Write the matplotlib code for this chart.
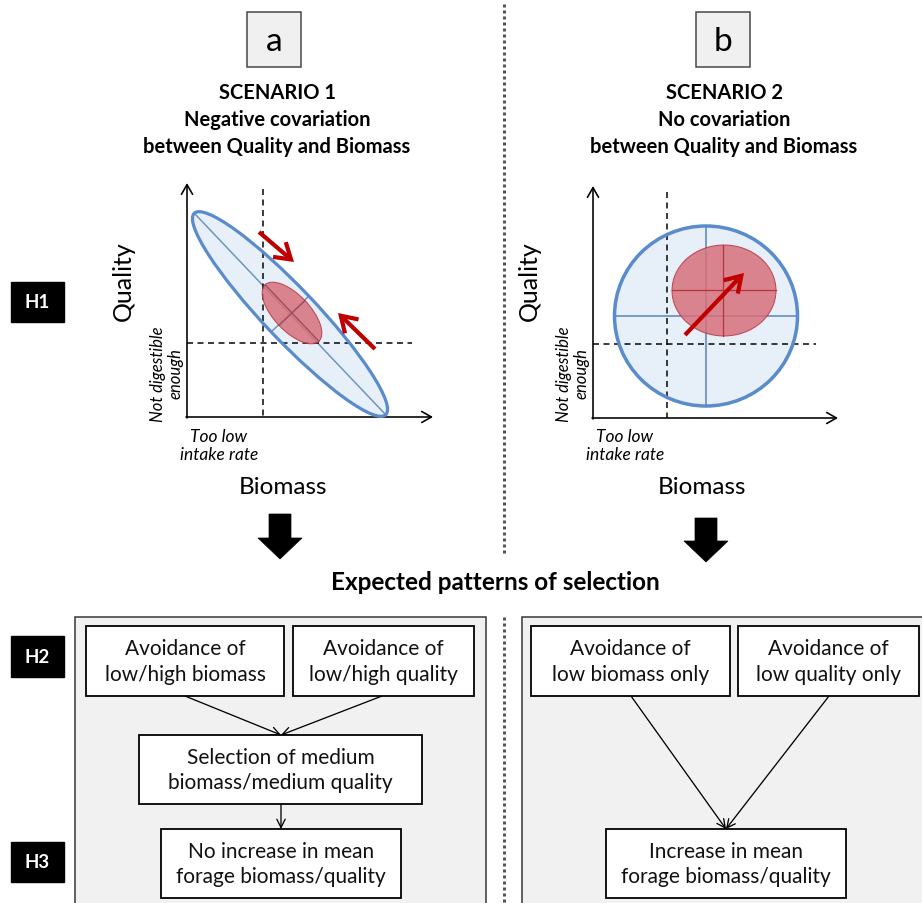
import matplotlib
matplotlib.use("Agg")
import matplotlib.pyplot as plt
from matplotlib.patches import Ellipse, Rectangle, FancyArrowPatch, Polygon
import numpy as np

plt.rcParams['font.family'] = ['Lato', 'DejaVu Sans']

# ---------------- content ----------------
panel_letters = ["a", "b"]
scenario_titles = [["SCENARIO 1", "Negative covariation", "between Quality and Biomass"],
                   ["SCENARIO 2", "No covariation", "between Quality and Biomass"]]
hyp_labels = ["H1", "H2", "H3"]
axis_y_label = "Quality"
axis_x_label = "Biomass"
low_q_label = "Not digestible\nenough"
low_b_label = "Too low\nintake rate"
middle_title = "Expected patterns of selection"
left_boxes = ["Avoidance of\nlow/high biomass", "Avoidance of\nlow/high quality",
              "Selection of medium\nbiomass/medium quality", "No increase in mean\nforage biomass/quality"]
right_boxes = ["Avoidance of\nlow biomass only", "Avoidance of\nlow quality only",
               "Increase in mean\nforage biomass/quality"]

BLUE = "#5a8ccc"
BLUE_FILL = "#e7eff9"
BLUE_LINE = "#6f93c2"
RED_FILL = "#d6707a"
RED_EDGE = "#b8323c"
RED_ARROW = "#c00000"
PANEL_GRAY = "#f1f1f1"
DIV_GRAY = "#555555"

fig = plt.figure(figsize=(9.22, 9.04), dpi=100)
ax = fig.add_axes([0, 0, 1, 1])
ax.set_xlim(0, 922)
ax.set_ylim(904, 0)
ax.axis('off')

PX = 72 / 100.0  # points per pixel

# ---------- dividers ----------
ax.plot([504, 504], [5, 556], color=DIV_GRAY, lw=3 * PX, linestyle=(0, (1, 1)), solid_capstyle='butt')
ax.plot([504, 504], [618, 904], color=DIV_GRAY, lw=3 * PX, linestyle=(0, (1, 1)), solid_capstyle='butt')

# ---------- letter boxes ----------
for cx, letter in zip([274, 723], panel_letters):
    ax.add_patch(Rectangle((cx - 27, 13), 54, 55, facecolor="#f0f0f0", edgecolor="#444444", lw=1.5 * PX))
    ax.text(cx, 42, letter, ha='center', va='center', fontsize=24, color='black')

# ---------- scenario titles ----------
for cx, lines in zip([277, 724], scenario_titles):
    for i, line in enumerate(lines):
        ax.text(cx, 93 + 27 * i, line, ha='center', va='center', fontsize=14.5, fontweight='bold')

# ---------- hypothesis boxes ----------
for (y0, y1), lab in zip([(283, 323), (637, 678), (843, 883)], hyp_labels):
    ax.add_patch(Rectangle((11, y0), 53, y1 - y0, facecolor='black', edgecolor='black'))
    ax.text(37.5, (y0 + y1) / 2, lab, ha='center', va='center', fontsize=13.5, fontweight='bold', color='white')


def axes_frame(x0, y0, xend, ytop):
    a1 = FancyArrowPatch((x0, y0 + 1), (x0, ytop), arrowstyle='->,head_length=7,head_width=4',
                         mutation_scale=1, lw=1.6 * PX, color='black', shrinkA=0, shrinkB=0)
    a2 = FancyArrowPatch((x0 - 1, y0), (xend, y0), arrowstyle='->,head_length=7,head_width=4',
                         mutation_scale=1, lw=1.6 * PX, color='black', shrinkA=0, shrinkB=0)
    ax.add_patch(a1)
    ax.add_patch(a2)


def dashed(xs, ys):
    ax.plot(xs, ys, color='black', lw=1.5 * PX, linestyle=(0, (4, 3)))


def red_arrow(p0, p1):
    ax.add_patch(FancyArrowPatch(p0, p1, arrowstyle='->,head_length=11,head_width=7',
                                 mutation_scale=1, lw=4.2 * PX, color=RED_ARROW,
                                 shrinkA=0, shrinkB=0, joinstyle='miter', capstyle='butt',
                                 zorder=8))


def axis_texts(ox, cx):
    ax.text(ox - 64, 281, axis_y_label, rotation=90, ha='center', va='center', fontsize=18)
    ax.text(cx, 488, axis_x_label, ha='center', va='center', fontsize=17.5)
    ax.text(ox - 20, 374, low_q_label, rotation=90, ha='center', va='center', fontsize=12,
            style='italic', linespacing=1.1)
    ax.text(ox + 32, 446, low_b_label, ha='center', va='center', fontsize=12.5,
            style='italic', linespacing=1.15)


# ================= Scenario 1 =================
ox, oy = 187, 418
c1 = np.array([290.0, 315.0])
L1, W1 = 278.0, 52.0
ang1 = np.degrees(np.arctan2(415 - 215, 385 - 195))
ax.add_patch(Ellipse(c1, L1, W1, angle=ang1, facecolor=BLUE_FILL, edgecolor='none', zorder=1))
u = np.array([np.cos(np.radians(ang1)), np.sin(np.radians(ang1))])
v = np.array([-u[1], u[0]])
p_a, p_b = c1 - u * L1 / 2, c1 + u * L1 / 2
ax.plot([p_a[0], p_b[0]], [p_a[1], p_b[1]], color=BLUE_LINE, lw=1.5 * PX, zorder=2)
q_a, q_b = c1 - v * W1 / 2, c1 + v * W1 / 2
ax.plot([q_a[0], q_b[0]], [q_a[1], q_b[1]], color=BLUE_LINE, lw=1.5 * PX, zorder=2)
c1r = np.array([292.0, 314.0])
L1r, W1r = 78.0, 36.0
ax.add_patch(Ellipse(c1r, L1r, W1r, angle=ang1, facecolor=RED_FILL, edgecolor=RED_EDGE,
                     lw=1.0 * PX, alpha=0.85, zorder=3))
r_a, r_b = c1r - u * L1r / 2, c1r + u * L1r / 2
ax.plot([r_a[0], r_b[0]], [r_a[1], r_b[1]], color="#9c4a5a", lw=1.3 * PX, zorder=4)
s_a, s_b = c1r - v * W1r / 2, c1r + v * W1r / 2
ax.plot([s_a[0], s_b[0]], [s_a[1], s_b[1]], color="#9c4a5a", lw=1.3 * PX, zorder=4)
ax.add_patch(Ellipse(c1, L1, W1, angle=ang1, facecolor='none', edgecolor=BLUE, lw=3.2 * PX, zorder=5))

dashed([263, 263], [190, oy])
dashed([ox, 412], [344, 344])
axes_frame(ox, oy, 433, 184)
red_arrow((259, 233), (294, 263))
red_arrow((375, 350), (338, 314))
axis_texts(ox, 283)

# ================= Scenario 2 =================
ox2, oy2 = 593, 419
c2 = (706.0, 317.0)
ax.add_patch(Ellipse(c2, 183, 180, facecolor=BLUE_FILL, edgecolor='none', zorder=1))
ax.plot([706, 706], [227, 407], color=BLUE_LINE, lw=1.8 * PX, zorder=2)
ax.plot([614.5, 797.5], [317, 317], color=BLUE_LINE, lw=1.8 * PX, zorder=2)
c2r = (724.0, 291.5)
ax.add_patch(Ellipse(c2r, 104, 91, facecolor=RED_FILL, edgecolor=RED_EDGE, lw=1.0 * PX,
                     alpha=0.85, zorder=3))
ax.plot([723, 723], [246, 337], color="#c0303a", lw=1.3 * PX, zorder=4)
ax.plot([672, 776], [291, 291], color="#c0303a", lw=1.3 * PX, zorder=4)
ax.add_patch(Ellipse(c2, 183, 180, facecolor='none', edgecolor=BLUE, lw=3.5 * PX, zorder=5))

dashed([667, 667], [193, oy2])
dashed([ox2, 816], [345, 345])
axes_frame(ox2, oy2, 838, 187)
red_arrow((685, 336), (744, 274))
axis_texts(ox2, 702)

# ---------- block arrows ----------
def block_arrow(cx, y_top, y_head, y_tip, shaft_w, head_w):
    pts = [(cx - shaft_w / 2, y_top), (cx + shaft_w / 2, y_top), (cx + shaft_w / 2, y_head),
           (cx + head_w / 2, y_head), (cx, y_tip), (cx - head_w / 2, y_head),
           (cx - shaft_w / 2, y_head)]
    ax.add_patch(Polygon(pts, closed=True, facecolor='black', edgecolor='black', lw=0.5))


block_arrow(280, 515, 539, 560, 22, 44)
block_arrow(706, 519, 542, 563, 22, 44)

ax.text(495, 583, middle_title, ha='center', va='center', fontsize=17.5, fontweight='bold')

# ---------- bottom panels ----------
ax.add_patch(Rectangle((75, 618), 411, 300, facecolor=PANEL_GRAY, edgecolor='#333333', lw=1.5 * PX))
ax.add_patch(Rectangle((522, 618), 420, 300, facecolor=PANEL_GRAY, edgecolor='#333333', lw=1.5 * PX))


def tbox(x0, x1, y0, y1, text):
    ax.add_patch(Rectangle((x0, y0), x1 - x0, y1 - y0, facecolor='white', edgecolor='black',
                           lw=1.8 * PX, zorder=3))
    ax.text((x0 + x1) / 2, (y0 + y1) / 2, text, ha='center', va='center', fontsize=15,
            linespacing=1.33, zorder=4, color='#111111')


def line_arrow(p0, p1):
    ax.add_patch(FancyArrowPatch(p0, p1, arrowstyle='->,head_length=6,head_width=3',
                                 mutation_scale=1, lw=1.3 * PX, color='black',
                                 shrinkA=0, shrinkB=0, zorder=2))


lb = [(86, 284, 627, 697), (293, 474, 627, 697), (139, 422, 736, 805), (161, 401, 830, 899)]
for (x0, x1, y0, y1), t in zip(lb, left_boxes):
    tbox(x0, x1, y0, y1, t)
line_arrow((185, 697), (281, 736))
line_arrow((382, 697), (281, 736))
line_arrow((281, 805), (281, 830))

rb = [(531, 730, 627, 697), (738, 919, 627, 697), (606, 846, 830, 899)]
for (x0, x1, y0, y1), t in zip(rb, right_boxes):
    tbox(x0, x1, y0, y1, t)
line_arrow((631, 697), (726, 830))
line_arrow((829, 697), (726, 830))

fig.savefig("out.png", dpi=100)
